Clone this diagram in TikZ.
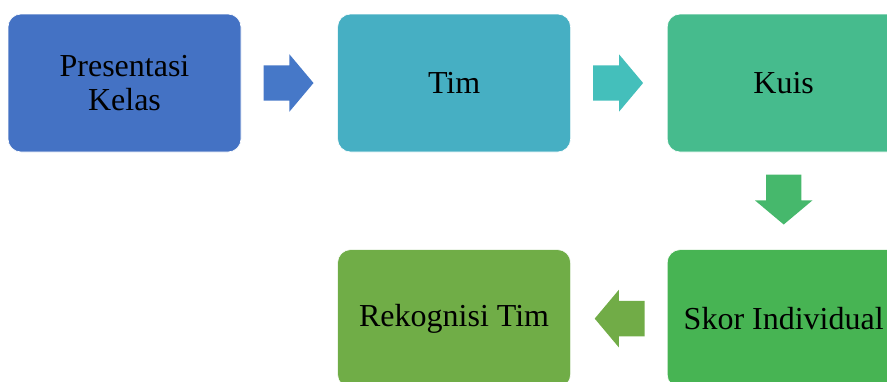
\documentclass[tikz,border=0pt]{standalone}
\usepackage{fontspec}
\setmainfont{Liberation Serif}
\usepackage{xcolor}
\usetikzlibrary{shapes,arrows,positioning,calc}
\definecolor{presblue}{HTML}{4472C4}
\definecolor{arrblue}{HTML}{4678C8}
\definecolor{timteal}{HTML}{46AFC3}
\definecolor{arrteal}{HTML}{44BFBB}
\definecolor{kuisgreen}{HTML}{46BB8D}
\definecolor{arrgreen}{HTML}{46B86C}
\definecolor{skorgreen}{HTML}{47B453}
\definecolor{rekgreen}{HTML}{70AD47}
\definecolor{arrolive}{HTML}{71AC47}
\tikzstyle{block} = [rectangle, draw=white, line width=0.6pt, rounded corners=13pt,
    minimum width=233pt, minimum height=138pt, align=center,
    font=\fontsize{32}{34}\selectfont]
\tikzstyle{blockarrow} = [single arrow, minimum height=50pt, minimum width=57pt,
    single arrow head extend=11pt, single arrow tip angle=100,
    inner xsep=0pt, inner ysep=17.5pt, anchor=tail]

\begin{document}
\begin{tikzpicture}[node distance = 96pt]
    \useasboundingbox (0,0) rectangle (887pt,-381pt);
    % Place nodes
    \node [block, fill=presblue] (presentasi) at (124.5pt,-83pt) {Presentasi\\Kelas};
    \node [block, fill=timteal, right=of presentasi] (tim) {Tim};
    \node [block, fill=kuisgreen, right=of tim] (kuis) {Kuis};
    \node [block, fill=skorgreen, below=97pt of kuis] (skor) {Skor Individual};
    \node [block, fill=rekgreen, left=of skor] (rekognisi) {Rekognisi Tim};

    % Block arrows between the steps
    \node [blockarrow, fill=arrblue] (arrPresTim) at ($(presentasi.east)+(22pt,0)$) {};
    \node [blockarrow, fill=arrteal] (arrTimKuis) at ($(tim.east)+(22pt,0)$) {};
    \node [blockarrow, fill=arrgreen, rotate=-90] (arrKuisSkor) at ($(kuis.south)+(0,-22pt)$) {};
    \node [blockarrow, fill=arrolive, rotate=180] (arrSkorRek) at ($(skor.west)+(-22pt,0)$) {};
\end{tikzpicture}
\end{document}
